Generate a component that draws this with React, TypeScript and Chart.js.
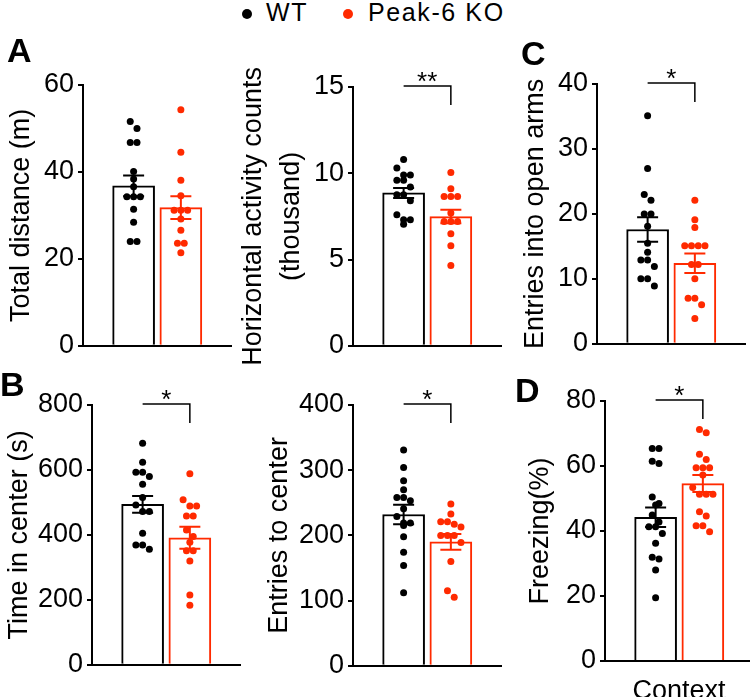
import React, { useEffect, useRef } from 'react';
import { Chart, registerables } from 'chart.js';

Chart.register(...registerables);

const FONT = "'Liberation Sans', Arial, Helvetica, sans-serif";
const WT_COLOR = '#000000';
const KO_COLOR = '#ff2a00';
const groups = ['WT', 'Peak-6 KO'];

// A (left) – Total distance (m)
const distanceWT = [51.6, 50.0, 46.8, 46.8, 40.1, 38.4, 36.6, 34.3, 34.3, 34.3, 31.4, 28.4, 24.0, 24.0];
const distanceKO = [54.3, 44.5, 38.1, 34.5, 31.2, 31.2, 31.2, 29.2, 26.6, 23.6, 23.6, 21.4];
const distanceMean = [36.8, 31.8];
const distanceSem = [2.4, 2.6];
const distanceTicks = [0, 20, 40, 60];

// A (right) – Horizontal activity counts (thousand)
const activityWT = [10.8, 10.3, 9.9, 9.9, 9.6, 9.6, 9.2, 8.75, 8.75, 8.4, 7.6, 7.3, 7.3, 7.05];
const activityKO = [10.05, 9.1, 8.65, 8.65, 8.65, 7.7, 7.2, 7.2, 7.2, 6.5, 5.8, 4.65];
const activityMean = [8.86, 7.49];
const activitySem = [0.29, 0.39];
const activityTicks = [0, 5, 10, 15];

// C – Entries into open arms
const openArmsWT = [35.1, 27.0, 23.0, 22.1, 20.0, 20.0, 18.1, 15.5, 14.1, 12.9, 12.9, 11.9, 10.0, 10.0, 8.9];
const openArmsKO = [22.1, 19.1, 17.9, 15.1, 15.1, 15.1, 15.1, 12.2, 12.2, 10.0, 7.0, 7.0, 6.0, 3.9];
const openArmsMean = [17.6, 12.4];
const openArmsSem = [1.9, 1.5];
const openArmsTicks = [0, 10, 20, 30, 40];

// B (left) – Time in center (s)
const centerTimeWT = [682, 624, 593, 593, 580, 556, 515, 492, 472, 472, 405, 369, 369, 356];
const centerTimeKO = [588, 508, 489, 489, 458, 458, 415, 395, 377, 351, 351, 320, 215, 183];
const centerTimeMean = [494, 391];
const centerTimeSem = [26, 34];
const centerTimeTicks = [0, 200, 400, 600, 800];

// B (right) – Entries to center
const centerEntriesWT = [331, 304, 284, 270, 258, 258, 253, 241, 229, 219, 219, 215, 198, 174, 154, 112];
const centerEntriesKO = [248, 233, 221, 221, 217, 213, 200, 200, 200, 189, 160, 115, 105];
const centerEntriesMean = [232, 190];
const centerEntriesSem = [15, 12];
const centerEntriesTicks = [0, 100, 200, 300, 400];

// D – Freezing (%), Context
const freezingWT = [65.4, 65.4, 61.5, 60.8, 50.5, 48.5, 48.0, 44.9, 42.8, 41.3, 41.3, 39.2, 36.2, 31.9, 31.4, 28.0, 19.5];
const freezingKO = [71.2, 70.2, 63.6, 62.0, 59.5, 59.5, 59.5, 57.2, 53.4, 51.3, 51.3, 51.3, 45.9, 44.6, 41.6, 41.6, 39.8];
const freezingMean = [44.2, 54.6];
const freezingSem = [3.0, 2.6];
const freezingTicks = [0, 20, 40, 60, 80];

// shared geometry
const X_MIN = 0.32;
const X_MAX = 2.67;
const PLOT_W = 148;
const DOT_SPACING = 9;

function swarmOffsets(values: number[], max: number, plotH: number): number[] {
  const unitPx = PLOT_W / (X_MAX - X_MIN);
  const order = values.map((_, i) => i).sort((a, b) => values[b] - values[a]);
  const out = new Array(values.length).fill(0);
  let bin: number[] = [];
  let binStart = 0;
  const flush = () => {
    bin.forEach((k, j) => {
      out[k] = ((j - (bin.length - 1) / 2) * DOT_SPACING) / unitPx;
    });
  };
  order.forEach((k) => {
    const py = (values[k] / max) * plotH;
    if (bin.length && binStart - py > DOT_SPACING * 0.8) {
      flush();
      bin = [];
    }
    if (!bin.length) binStart = py;
    bin.push(k);
  });
  flush();
  return out;
}

type Layout = {
  left: number;
  top: number;
  axisX: number;
  plotTop: number;
  plotBottom: number;
  titleCenter: number;
  titleLineHeight?: number;
};

type PanelProps = {
  layout: Layout;
  title: string | string[];
  wt: number[];
  ko: number[];
  mean: number[];
  sem: number[];
  ticks: number[];
  sig: string | null;
  xTitle?: string;
};

function BarPanel({ layout, title, wt, ko, mean, sem, ticks, sig, xTitle }: PanelProps) {
  const ref = useRef<HTMLCanvasElement | null>(null);
  const yAxisWidth = layout.axisX - layout.left;
  const padTop = layout.plotTop - layout.top;
  const plotH = layout.plotBottom - layout.plotTop;
  const xAxisH = xTitle ? 47 : 20;
  const height = padTop + plotH + xAxisH;
  const width = yAxisWidth + PLOT_W + 4;

  useEffect(() => {
    if (!ref.current) return;
    const yMax = ticks[ticks.length - 1];
    const step = ticks[1] - ticks[0];
    const colors = [WT_COLOR, KO_COLOR];
    const wtOff = swarmOffsets(wt, yMax, plotH);
    const koOff = swarmOffsets(ko, yMax, plotH);
    const tlh = layout.titleLineHeight ?? 1.2;
    const titlePad = layout.titleCenter - layout.left - (27 * tlh) / 2;

    const decor = {
      id: 'decor',
      afterDatasetDraw(chart: any, args: any) {
        if (args.index !== 0) return;
        const ctx = chart.ctx;
        const xs = chart.scales.x;
        const ys = chart.scales.y;
        ctx.save();
        ctx.lineWidth = 2;
        for (let i = 0; i < 2; i++) {
          const x = xs.getPixelForValue(i + 1);
          const yHi = ys.getPixelForValue(mean[i] + sem[i]);
          const yLo = ys.getPixelForValue(mean[i] - sem[i]);
          ctx.strokeStyle = colors[i];
          ctx.beginPath();
          ctx.moveTo(x, yHi);
          ctx.lineTo(x, yLo);
          ctx.moveTo(x - 10.5, yHi);
          ctx.lineTo(x + 10.5, yHi);
          ctx.moveTo(x - 10.5, yLo);
          ctx.lineTo(x + 10.5, yLo);
          ctx.stroke();
        }
        ctx.restore();
      },
      afterDraw(chart: any) {
        if (!sig) return;
        const ctx = chart.ctx;
        const xs = chart.scales.x;
        const ys = chart.scales.y;
        const x1 = xs.getPixelForValue(1);
        const x2 = xs.getPixelForValue(2);
        const yb = ys.getPixelForValue(ys.max) - 1;
        ctx.save();
        ctx.strokeStyle = '#000';
        ctx.lineWidth = 1.5;
        ctx.beginPath();
        ctx.moveTo(x1, yb);
        ctx.lineTo(x2, yb);
        ctx.lineTo(x2, yb + 19);
        ctx.stroke();
        ctx.fillStyle = '#000';
        ctx.font = `26px ${FONT}`;
        ctx.textAlign = 'center';
        ctx.textBaseline = 'alphabetic';
        ctx.fillText(sig, (x1 + x2) / 2, yb + 4);
        ctx.restore();
      },
    };

    const chart = new Chart(ref.current, {
      type: 'bar',
      data: {
        datasets: [
          {
            type: 'bar',
            label: 'mean',
            data: mean.map((m, i) => ({ x: i + 1, y: m })),
            backgroundColor: '#ffffff',
            borderColor: colors,
            borderWidth: 2,
            barThickness: 42,
            order: 2,
          } as any,
          {
            type: 'scatter',
            label: groups[0],
            data: wt.map((v, i) => ({ x: 1 + wtOff[i], y: v })),
            backgroundColor: WT_COLOR,
            borderWidth: 0,
            pointRadius: 3.5,
            order: 1,
          } as any,
          {
            type: 'scatter',
            label: groups[1],
            data: ko.map((v, i) => ({ x: 2 + koOff[i], y: v })),
            backgroundColor: KO_COLOR,
            borderWidth: 0,
            pointRadius: 3.5,
            order: 1,
          } as any,
        ],
      },
      options: {
        animation: false,
        responsive: false,
        maintainAspectRatio: false,
        events: [],
        layout: { padding: { top: padTop, right: 4, bottom: 0, left: 0 } },
        plugins: { legend: { display: false }, tooltip: { enabled: false } },
        scales: {
          x: {
            type: 'linear',
            min: X_MIN,
            max: X_MAX,
            ticks: { display: false },
            grid: { display: false },
            border: { display: true, color: '#000', width: 2 },
            title: xTitle
              ? { display: true, text: xTitle, color: '#000', font: { family: FONT, size: 27 }, padding: 0 }
              : { display: false },
            afterFit: (s: any) => {
              s.height = xAxisH;
            },
          },
          y: {
            type: 'linear',
            min: 0,
            max: yMax,
            ticks: { stepSize: step, color: '#000', font: { family: FONT, size: 27 }, padding: 4 },
            grid: { display: true, drawOnChartArea: false, drawTicks: true, tickLength: 5, color: '#000', lineWidth: 2 },
            border: { display: true, color: '#000', width: 2 },
            title: {
              display: true,
              text: title,
              color: '#000',
              font: { family: FONT, size: 27, lineHeight: tlh },
              padding: { top: titlePad, bottom: 0 },
            },
            afterFit: (s: any) => {
              s.width = yAxisWidth;
            },
          },
        } as any,
      },
      plugins: [decor],
    } as any);
    return () => chart.destroy();
  }, []);

  return (
    <canvas
      ref={ref}
      width={width}
      height={height}
      style={{ position: 'absolute', left: layout.left, top: layout.top, width, height }}
    />
  );
}

const letterStyle = (left: number, top: number): React.CSSProperties => ({
  position: 'absolute',
  left,
  top,
  font: `bold 34px ${FONT}`,
  lineHeight: '34px',
  color: '#000',
});

export default function App() {
  return (
    <div
      style={{
        position: 'fixed',
        left: 0,
        top: 0,
        width: 750,
        height: 697,
        overflow: 'hidden',
        background: '#fff',
        fontFamily: FONT,
      }}
    >
      <BarPanel
        layout={{ left: 0, top: 45, axisX: 83, plotTop: 85, plotBottom: 346, titleCenter: 22 }}
        title="Total distance (m)"
        wt={distanceWT}
        ko={distanceKO}
        mean={distanceMean}
        sem={distanceSem}
        ticks={distanceTicks}
        sig={null}
      />
      <BarPanel
        layout={{ left: 235, top: 45, axisX: 353, plotTop: 87, plotBottom: 346, titleCenter: 254, titleLineHeight: 1.4 }}
        title={['Horizontal activity counts', '(thousand)']}
        wt={activityWT}
        ko={activityKO}
        mean={activityMean}
        sem={activitySem}
        ticks={activityTicks}
        sig="**"
      />
      <BarPanel
        layout={{ left: 505, top: 45, axisX: 597, plotTop: 84, plotBottom: 344, titleCenter: 536 }}
        title="Entries into open arms"
        wt={openArmsWT}
        ko={openArmsKO}
        mean={openArmsMean}
        sem={openArmsSem}
        ticks={openArmsTicks}
        sig="*"
      />
      <BarPanel
        layout={{ left: 0, top: 375, axisX: 92, plotTop: 405, plotBottom: 665, titleCenter: 20 }}
        title="Time in center (s)"
        wt={centerTimeWT}
        ko={centerTimeKO}
        mean={centerTimeMean}
        sem={centerTimeSem}
        ticks={centerTimeTicks}
        sig="*"
      />
      <BarPanel
        layout={{ left: 245, top: 375, axisX: 353, plotTop: 405, plotBottom: 666, titleCenter: 280 }}
        title="Entries to center"
        wt={centerEntriesWT}
        ko={centerEntriesKO}
        mean={centerEntriesMean}
        sem={centerEntriesSem}
        ticks={centerEntriesTicks}
        sig="*"
      />
      <BarPanel
        layout={{ left: 505, top: 375, axisX: 605, plotTop: 401, plotBottom: 661, titleCenter: 541 }}
        title="Freezing(%)"
        wt={freezingWT}
        ko={freezingKO}
        mean={freezingMean}
        sem={freezingSem}
        ticks={freezingTicks}
        sig="*"
        xTitle="Context"
      />

      <div style={letterStyle(7, 32.5)}>A</div>
      <div style={letterStyle(0, 366.5)}>B</div>
      <div style={letterStyle(521, 36)}>C</div>
      <div style={letterStyle(515, 373)}>D</div>

      <div style={{ position: 'absolute', left: 242, top: 8.5, width: 10, height: 10, borderRadius: '50%', background: WT_COLOR }} />
      <div style={{ position: 'absolute', left: 266, top: -0.5, font: `25px ${FONT}`, lineHeight: '25px', letterSpacing: '1.6px', whiteSpace: 'nowrap', color: '#000' }}>
        {groups[0]}
      </div>
      <div style={{ position: 'absolute', left: 343, top: 8.5, width: 10, height: 10, borderRadius: '50%', background: KO_COLOR }} />
      <div style={{ position: 'absolute', left: 368, top: -0.5, font: `25px ${FONT}`, lineHeight: '25px', letterSpacing: '1.6px', whiteSpace: 'nowrap', color: '#000' }}>
        {groups[1]}
      </div>
    </div>
  );
}
